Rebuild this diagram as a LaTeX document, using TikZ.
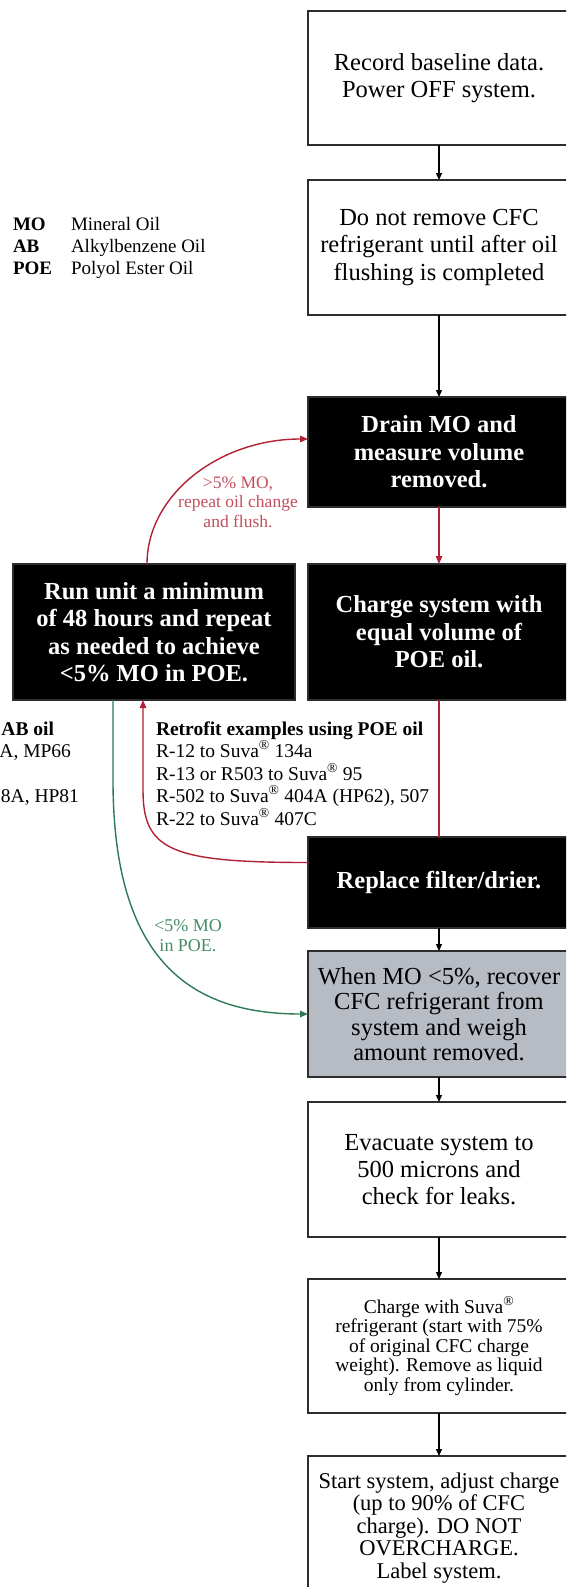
\documentclass[tikz,border=0pt]{standalone}
\usepackage{fontspec}
\setmainfont{Liberation Serif}
\usetikzlibrary{arrows.meta,calc}
\definecolor{boxgray}{RGB}{183,187,195}
\definecolor{flowred}{RGB}{178,34,52}
\definecolor{labelred}{RGB}{196,78,94}
\definecolor{flowgreen}{RGB}{46,122,86}
\definecolor{labelgreen}{RGB}{70,140,104}
\definecolor{edgegray}{RGB}{45,45,45}
\begin{document}
\begin{tikzpicture}[x=1pt,y=-1pt,
  every node/.style={inner sep=0pt, outer sep=0pt},
  flowbox/.style={draw=edgegray, line width=2.6pt, minimum width=262pt, align=center, inner sep=4pt, font=\fontsize{24.5}{27.5}\selectfont},
  darkbox/.style={flowbox, fill=black, text=white, font=\fontsize{24.5}{27.5}\selectfont\bfseries},
  graybox/.style={flowbox, fill=boxgray, font=\fontsize{24.5}{25.5}\selectfont},
  smallbox/.style={flowbox, font=\fontsize{19.5}{19.5}\selectfont},
  midbox/.style={flowbox, font=\fontsize{22.5}{22.5}\selectfont},
  arr/.style={line width=1.2pt, draw=black, -{Triangle[length=7pt,width=6pt]}},
  redarr/.style={line width=1.4pt, draw=flowred, -{Triangle[length=8pt,width=6.5pt]}},
  redline/.style={line width=1.4pt, draw=flowred},
  greenarr/.style={line width=1.4pt, draw=flowgreen, -{Triangle[length=8pt,width=6.5pt]}},
  legtext/.style={anchor=base west, font=\fontsize{19}{22}\selectfont},
  legbold/.style={anchor=base west, font=\fontsize{19}{22}\selectfont\bfseries},
  retro/.style={anchor=base west, font=\fontsize{19.5}{22.5}\selectfont},
  retrocut/.style={anchor=base east, font=\fontsize{19.5}{22.5}\selectfont},
  redlabel/.style={align=center, text=labelred, font=\fontsize{17.5}{19.5}\selectfont},
  greenlabel/.style={align=center, text=labelgreen, font=\fontsize{18}{20}\selectfont}
]
\useasboundingbox (0,0) rectangle (566,1587);
\clip (0,0) rectangle (566,1587);
\fill[white] (0,0) rectangle (566,1587);

% main column
\node[flowbox, minimum height=134pt] (b1) at (439,78) {Record baseline data.\\Power OFF system.};
\node[flowbox, minimum height=135pt] (b2) at (439,247.5) {Do not remove CFC\\refrigerant until after oil\\flushing is completed};
\node[darkbox, minimum height=110pt] (b3) at (439,452) {Drain MO and\\measure volume\\removed.};
\node[darkbox, minimum height=136pt] (b4) at (439,632) {Charge system with\\equal volume of\\POE oil.};
\node[darkbox, minimum width=282pt, minimum height=136pt] (lbox) at (154,632) {Run unit a minimum\\of 48 hours and repeat\\as needed to achieve\\<5\% MO in POE.};
\node[darkbox, minimum height=91pt] (b5) at (439,882.5) {Replace filter/drier.};
\node[graybox, minimum height=126pt] (b6) at (439,1014) {When MO <5\%, recover\\CFC refrigerant from\\system and weigh\\amount removed.};
\node[flowbox, minimum height=135pt, font=\fontsize{24.5}{27}\selectfont] (b7) at (439,1169.5) {Evacuate system to\\500 microns and\\check for leaks.};
\node[smallbox, minimum height=134pt] (b8) at (439,1346) {Charge with Suva\textsuperscript{\textregistered}\\refrigerant (start with 75\%\\of original CFC charge\\weight). Remove as liquid\\only from cylinder.};
\node[midbox, minimum height=144pt] (b9) at (439,1528) {Start system, adjust charge\\(up to 90\% of CFC\\charge). DO NOT\\OVERCHARGE.\\Label system.};

% legend
\node[legbold] (kmo) at (13,230) {MO};
\node[legtext] (vmo) at (71,230) {Mineral Oil};
\node[legbold] (kab) at (13,252) {AB};
\node[legtext] (vab) at (71,252) {Alkylbenzene Oil};
\node[legbold] (kpoe) at (13,274) {POE};
\node[legtext] (vpoe) at (71,274) {Polyol Ester Oil};

% retrofit examples
\node[retro, font=\fontsize{19.5}{22.5}\selectfont\bfseries] (rhead) at (156,735) {Retrofit examples using POE oil};
\node[retro] (r1) at (156,757.5) {R-12 to Suva\textsuperscript{\textregistered} 134a};
\node[retro] (r2) at (156,780) {R-13 or R503 to Suva\textsuperscript{\textregistered} 95};
\node[retro] (r3) at (156,802.5) {R-502 to Suva\textsuperscript{\textregistered} 404A (HP62), 507};
\node[retro] (r4) at (156,825) {R-22 to Suva\textsuperscript{\textregistered} 407C};
\node[retrocut, font=\fontsize{19.5}{22.5}\selectfont\bfseries] (lhead) at (54,735) {AB oil};
\node[retrocut] (l1) at (71,757.5) {A, MP66};
\node[retrocut] (l3) at (79,802.5) {8A, HP81};

% connectors
\draw[arr] (b1) -- (b2);
\draw[arr] (b2) -- (b3);
\draw[redarr] (b3) -- (b4);
\draw[redline] (b4) -- (b5);
\draw[arr] (b5) -- (b6);
\draw[arr] (b6) -- (b7);
\draw[arr] (b7) -- (b8);
\draw[arr] (b8) -- (b9);

\draw[redarr] ($(lbox.north)+(-7,0)$) .. controls (147,495) and (219,439) .. ($(b3.west)+(0,-13)$);
\draw[redarr] ($(b5.west)+(0,-20)$) .. controls (170,862.5) and (143,850) .. (143,790) -- ($(lbox.south)+(-11,0)$);
\draw[greenarr] ($(lbox.south)+(-41,0)$) -- (113,780) .. controls (113,960) and (190,1014) .. (b6.west);

% labels
\node[redlabel] (lblred) at (238,502) {>5\% MO,\\repeat oil change\\and flush.};
\node[greenlabel] (lblgreen) at (188,936) {<5\% MO\\in POE.};
\end{tikzpicture}
\end{document}
